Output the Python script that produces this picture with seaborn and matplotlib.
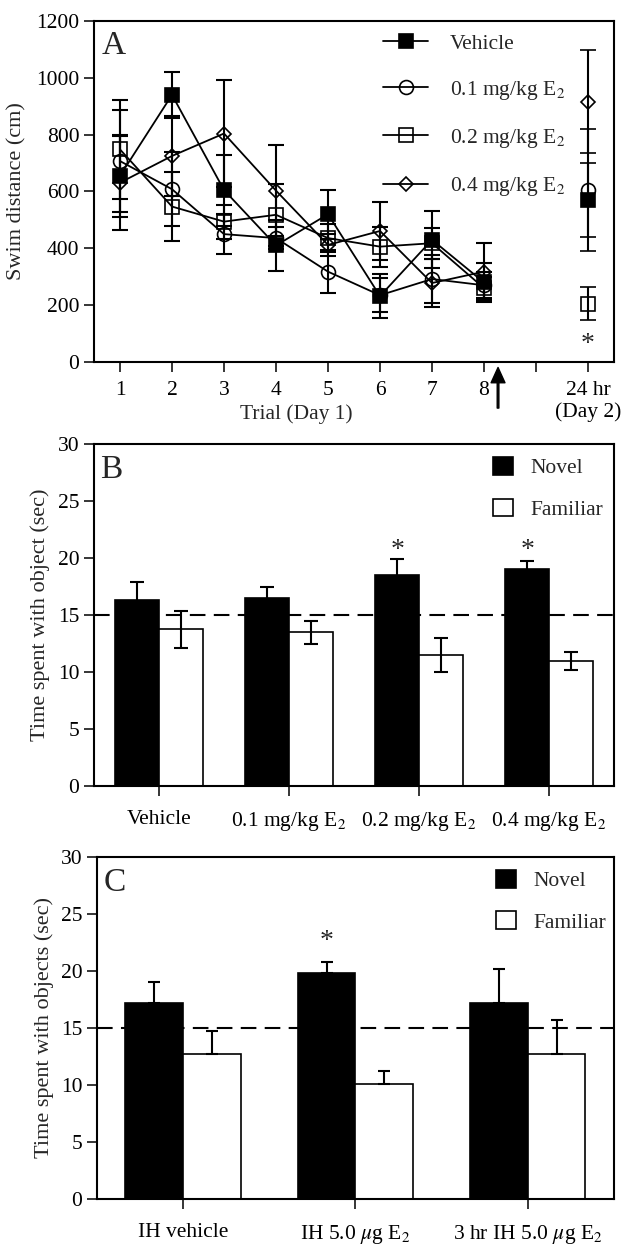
import numpy as np
import pandas as pd
import matplotlib
matplotlib.use("Agg")
import matplotlib.pyplot as plt
import matplotlib.transforms as mtransforms
from matplotlib.lines import Line2D
from matplotlib.patches import Patch
import seaborn as sns

# ---- panel A: swim distance per trial (day 1) and 24 hr retest (day 2)
trials = [1, 2, 3, 4, 5, 6, 7, 8]
groups_a = ["Vehicle", "0.1 mg/kg E$_2$", "0.2 mg/kg E$_2$", "0.4 mg/kg E$_2$"]
vehicle_mean = [655, 940, 605, 410, 520, 232, 430, 280]
vehicle_err = [145, 80, 125, 88, 86, 77, 100, 70]
e01_mean = [707, 608, 450, 436, 318, 235, 292, 270]
e01_err = [180, 130, 70, 40, 76, 60, 85, 45]
e02_mean = [748, 547, 494, 518, 436, 406, 418, 260]
e02_err = [175, 120, 60, 110, 50, 70, 55, 40]
e04_mean = [631, 725, 804, 603, 412, 461, 278, 318]
e04_err = [165, 140, 188, 160, 40, 103, 85, 100]
day2_mean = [570, 605, 205, 916]
day2_err = [130, 215, 58, 182]
day2_x = 10
a_xticks = [1, 2, 3, 4, 5, 6, 7, 8, 9, 10]
a_xticklabels = ["1", "2", "3", "4", "5", "6", "7", "8", "", "24 hr\n(Day 2)"]

# ---- panel B: object recognition, systemic E2
groups_b = ["Vehicle", "0.1 mg/kg E$_2$", "0.2 mg/kg E$_2$", "0.4 mg/kg E$_2$"]
novel_b = [16.3, 16.5, 18.5, 19.0]
novel_b_err = [1.6, 1.0, 1.45, 0.78]
familiar_b = [13.75, 13.5, 11.5, 11.0]
familiar_b_err = [1.63, 1.0, 1.47, 0.78]
star_b = [2, 3]

# ---- panel C: object recognition, intrahippocampal E2
groups_c = ["IH vehicle", "IH 5.0 $\\mu$g E$_2$", "3 hr IH 5.0 $\\mu$g E$_2$"]
novel_c = [17.2, 19.8, 17.2]
novel_c_err = [1.85, 1.0, 3.0]
familiar_c = [12.7, 10.1, 12.7]
familiar_c_err = [2.0, 1.1, 3.0]
star_c = [1]

sns.set_style("ticks")
plt.rcParams["font.family"] = ["Liberation Serif", "DejaVu Serif"]
plt.rcParams["mathtext.fontset"] = "stix"
plt.rcParams["axes.linewidth"] = 1.5
plt.rcParams["xtick.major.width"] = 1.1
plt.rcParams["ytick.major.width"] = 1.1
plt.rcParams["xtick.color"] = "black"
plt.rcParams["ytick.color"] = "black"
plt.rcParams["axes.edgecolor"] = "black"

FS = 15.5

fig = plt.figure(figsize=(6.25, 12.54), dpi=100)
axA = fig.add_axes([0.1504, 0.7113, 0.832, 0.272])
axB = fig.add_axes([0.1504, 0.3732, 0.832, 0.2727])
axC = fig.add_axes([0.1552, 0.0439, 0.827, 0.2727])

# ---------------- Panel A ----------------
styles = {
    "Vehicle": dict(marker="s", mfc="black", ms=10),
    "0.1 mg/kg E$_2$": dict(marker="o", mfc="none", ms=10),
    "0.2 mg/kg E$_2$": dict(marker="s", mfc="none", ms=10),
    "0.4 mg/kg E$_2$": dict(marker="D", mfc="none", ms=7),
}
means = [vehicle_mean, e01_mean, e02_mean, e04_mean]
errs = [vehicle_err, e01_err, e02_err, e04_err]

for i in [3, 2, 1, 0]:
    g = groups_a[i]
    df = pd.DataFrame({"trial": trials, "dist": means[i]})
    st = styles[g]
    axA.errorbar(trials, means[i], yerr=errs[i], fmt="none", ecolor="black",
                 elinewidth=1.5, capsize=6, capthick=1.5, zorder=2)
    sns.lineplot(data=df, x="trial", y="dist", ax=axA, color="black", lw=1.3,
                 marker=st["marker"], markersize=st["ms"], mfc=st["mfc"],
                 mec="black", mew=1.2, zorder=3)
    axA.errorbar([day2_x], [day2_mean[i]], yerr=[day2_err[i]], fmt=st["marker"],
                 color="black", mfc=st["mfc"], mec="black", mew=1.2, ms=st["ms"],
                 elinewidth=1.5, capsize=6, capthick=1.5, zorder=3)

axA.set_xlim(0.5, 10.5)
axA.set_ylim(0, 1200)
axA.set_yticks(range(0, 1201, 200))
axA.set_xticks(a_xticks)
axA.set_xticklabels(a_xticklabels, linespacing=1.12)
axA.set_xlabel("")
axA.set_ylabel("Swim distance (cm)", fontsize=16)
axA.yaxis.set_label_coords(-0.129, 0.5)
axA.tick_params(axis="both", labelsize=FS, direction="out", length=7.5, pad=6.5,
                top=False, right=False)
axA.tick_params(axis="y", pad=3)

trans = mtransforms.blended_transform_factory(axA.transData, axA.transAxes)
axA.text(4.4, -0.153, "Trial (Day 1)", transform=trans, ha="center", va="center",
         fontsize=FS)
axA.annotate("", xy=(8.27, -0.016), xytext=(8.27, -0.135),
             xycoords=trans, textcoords=trans, annotation_clip=False,
             arrowprops=dict(facecolor="black", edgecolor="black", width=1.2,
                             headwidth=10, headlength=11, shrink=0))
axA.text(day2_x, 60, "*", ha="center", va="center", fontsize=20)
axA.text(0.015, 0.926, "A", transform=axA.transAxes, ha="left", va="center",
         fontsize=24)

handles_a = [Line2D([0], [0], color="black", lw=1.3, marker=styles[g]["marker"],
                    ms=styles[g]["ms"], mfc=styles[g]["mfc"], mec="black", mew=1.2)
             for g in groups_a]
axA.legend(handles_a, groups_a, frameon=False, loc="upper left",
           bbox_to_anchor=(0.556, 0.963), fontsize=FS, handlelength=2.1,
           handletextpad=1.0, labelspacing=1.17, borderpad=0, borderaxespad=0)


# ---------------- Panels B and C ----------------
def bar_panel(ax, cats, novel, novel_err, familiar, familiar_err, stars,
              letter, ylabel, up_only, capsize, star_y, legend_x, label_x):
    df = pd.DataFrame({
        "group": cats * 2,
        "object": ["Novel"] * len(cats) + ["Familiar"] * len(cats),
        "time": novel + familiar,
    })
    sns.barplot(data=df, x="group", y="time", hue="object", ax=ax,
                palette={"Novel": "black", "Familiar": "white"},
                edgecolor="black", linewidth=1.2, width=0.67, errorbar=None,
                legend=False, zorder=2)
    for cont, e in zip(ax.containers, [novel_err, familiar_err]):
        xs = [b.get_x() + b.get_width() / 2 for b in cont]
        hs = [b.get_height() for b in cont]
        if up_only:
            yerr = [np.zeros(len(e)), e]
        else:
            yerr = e
        ax.errorbar(xs, hs, yerr=yerr, fmt="none", ecolor="black",
                    elinewidth=1.5, capsize=capsize, capthick=1.5, zorder=3)
    nov = ax.containers[0]
    for k in stars:
        b = nov[k]
        ax.text(b.get_x() + b.get_width() / 2, star_y, "*", ha="center",
                va="center", fontsize=20)
    ax.axhline(15, color="black", lw=1.5, dashes=(7.5, 4), zorder=4)
    ax.set_xlim(-0.5, len(cats) - 0.5)
    ax.set_ylim(0, 30)
    ax.set_yticks(range(0, 31, 5))
    ax.set_xlabel("")
    ax.set_ylabel(ylabel, fontsize=16)
    ax.yaxis.set_label_coords(label_x, 0.5)
    ax.tick_params(axis="both", labelsize=FS, direction="out", length=7.5,
                   top=False, right=False)
    ax.tick_params(axis="x", pad=10)
    ax.tick_params(axis="y", pad=3)
    ax.text(0.012, 0.926, letter, transform=ax.transAxes, ha="left",
            va="center", fontsize=24)
    handles = [Patch(facecolor="black", edgecolor="black", lw=1.2),
               Patch(facecolor="white", edgecolor="black", lw=1.2)]
    ax.legend(handles, ["Novel", "Familiar"], frameon=False, loc="upper left",
              bbox_to_anchor=(legend_x, 0.963), fontsize=FS, handlelength=0.95,
              handleheight=0.9, handletextpad=0.8, labelspacing=0.95,
              borderpad=0, borderaxespad=0)
    for sp in ax.spines.values():
        sp.set_visible(True)
        sp.set_color("black")
        sp.set_linewidth(1.5)


bar_panel(axB, groups_b, novel_b, novel_b_err, familiar_b, familiar_b_err,
          star_b, "B", "Time spent with object (sec)", False, 5, 20.7, 0.767,
          -0.085)
bar_panel(axC, groups_c, novel_c, novel_c_err, familiar_c, familiar_c_err,
          star_c, "C", "Time spent with objects (sec)", True, 4, 22.6, 0.772,
          -0.083)

for sp in axA.spines.values():
    sp.set_visible(True)
    sp.set_color("black")
    sp.set_linewidth(1.5)

plt.savefig("out.png", dpi=100)
